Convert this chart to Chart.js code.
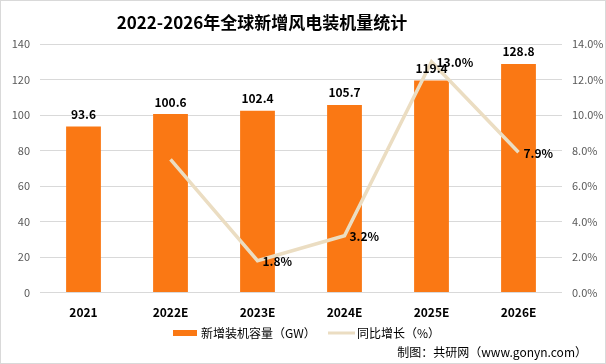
<!DOCTYPE html>
<html>
<head>
<meta charset="utf-8">
<script src="https://cdn.jsdelivr.net/npm/chart.js@4/dist/chart.umd.min.js"></script>
<style>
  html, body { margin: 0; padding: 0; background: #fff; }
  #wrap { width: 604px; height: 362px; border: 1px solid #d9d9d9; position: relative; }
</style>
</head>
<body>
<div id="wrap"><canvas id="c" width="604" height="362"></canvas></div>
<script>
const categories = ['2021', '2022E', '2023E', '2024E', '2025E', '2026E'];
const capacity = [93.6, 100.6, 102.4, 105.7, 119.4, 128.8];
const growth = [null, 7.5, 1.8, 3.2, 13.0, 7.9];
const growthLabels = ['', '', '1.8%', '3.2%', '13.0%', '7.9%'];

const FONT = '"Noto Sans CJK SC", "Noto Sans", sans-serif';
const BAR_COLOR = '#FA7814';
const LINE_COLOR = '#EBDDC2';

// title, value labels, legend and the source note
const labelPlugin = {
    id: 'labels',
    afterDatasetsDraw(chart) {
        const ctx = chart.ctx;
        ctx.save();
        ctx.fillStyle = '#000';
        ctx.font = 'bold 12px ' + FONT;
        ctx.textAlign = 'center';
        ctx.textBaseline = 'middle';
        chart.getDatasetMeta(0).data.forEach((bar, i) => {
            ctx.fillText(capacity[i].toFixed(1), bar.x, bar.y - 12);
        });
        ctx.textAlign = 'left';
        chart.getDatasetMeta(1).data.forEach((pt, i) => {
            if (!growthLabels[i]) return;
            ctx.fillText(growthLabels[i], pt.x + 5, pt.y + 1);
        });

        ctx.font = 'bold 17px ' + FONT;
        ctx.textAlign = 'center';
        ctx.fillText('2022-2026年全球新增风电装机量统计', 261, 22);

        // legend
        ctx.font = '12px ' + FONT;
        ctx.textAlign = 'left';
        ctx.fillStyle = BAR_COLOR;
        ctx.fillRect(172, 329, 24, 6);
        ctx.fillStyle = '#000';
        ctx.fillText('新增装机容量（GW）', 200, 332);
        ctx.strokeStyle = LINE_COLOR;
        ctx.lineWidth = 3;
        ctx.beginPath();
        ctx.moveTo(327, 332);
        ctx.lineTo(354, 332);
        ctx.stroke();
        ctx.fillText('同比增长（%）', 356, 332);

        ctx.textAlign = 'right';
        ctx.fillText('制图：共研网（www.gonyn.com）', 586, 351);
        ctx.restore();
    }
};

new Chart(document.getElementById('c'), {
    type: 'bar',
    data: {
        labels: categories,
        datasets: [{
            label: '新增装机容量（GW）',
            data: capacity,
            backgroundColor: BAR_COLOR,
            yAxisID: 'y',
            barPercentage: 0.8,
            categoryPercentage: 0.5,
            order: 2
        }, {
            type: 'line',
            label: '同比增长（%）',
            data: growth,
            borderColor: LINE_COLOR,
            backgroundColor: LINE_COLOR,
            borderWidth: 3.5,
            pointRadius: 0,
            tension: 0,
            yAxisID: 'y1',
            order: 1
        }]
    },
    options: {
        responsive: false,
        animation: false,
        layout: { padding: { left: 0, right: 0, top: 43, bottom: 38 } },
        scales: {
            x: {
                grid: { display: false },
                border: { display: false },
                ticks: { color: '#000', font: { family: FONT, size: 12, weight: 'bold' }, padding: 5 }
            },
            y: {
                position: 'left',
                min: 0, max: 140,
                afterFit: s => { s.width = 39; },
                ticks: { stepSize: 20, color: '#595959', font: { family: FONT, size: 11 }, padding: 10 },
                grid: { color: '#d9d9d9', drawTicks: false },
                border: { display: false }
            },
            y1: {
                position: 'right',
                min: 0, max: 14,
                afterFit: s => { s.width = 43; },
                ticks: {
                    stepSize: 2, color: '#595959', font: { family: FONT, size: 11 }, padding: 10,
                    callback: v => v.toFixed(1) + '%'
                },
                grid: { drawOnChartArea: false, drawTicks: false },
                border: { display: false }
            }
        },
        plugins: {
            title: { display: false },
            legend: { display: false },
            tooltip: { enabled: false }
        }
    },
    plugins: [labelPlugin]
});
</script>
</body>
</html>
